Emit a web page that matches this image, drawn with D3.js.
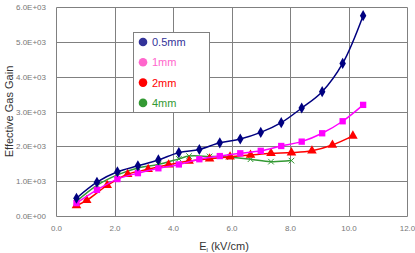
<!DOCTYPE html>
<html lang="en">
<head>
    <meta charset="UTF-8">
    <title>Effective Gas Gain</title>
    <script src="https://d3js.org/d3.v7.min.js"></script>
    <style>
        html, body { margin: 0; padding: 0; background: #fff; }
        svg { display: block; font-family: Arial, "Liberation Sans", Helvetica, sans-serif; }
    </style>
</head>
<body>
    <div id="chart"></div>

    <script>
        // Series data: [E_l (kV/cm), effective gas gain]
        const gap05 = [[0.7, 510], [1.4, 970], [2.1, 1270], [2.8, 1440], [3.5, 1610], [4.2, 1820], [4.9, 1910],
            [5.6, 2100], [6.3, 2210], [7.0, 2400], [7.7, 2680], [8.4, 3100], [9.1, 3570], [9.8, 4380], [10.5, 5750]];
        const gap1 = [[0.7, 370], [1.4, 750], [2.1, 1060], [2.8, 1230], [3.5, 1370], [4.2, 1480], [4.9, 1630],
            [5.6, 1720], [6.3, 1800], [7.0, 1870], [7.7, 2010], [8.4, 2135], [9.1, 2375], [9.8, 2720], [10.5, 3190]];
        const gap2 = [[0.7, 300], [1.05, 450], [1.75, 880], [2.45, 1200], [3.15, 1340], [3.85, 1470], [4.55, 1580],
            [5.25, 1645], [5.95, 1700], [6.65, 1750], [7.35, 1800], [8.05, 1820], [8.75, 1875], [9.45, 2040], [10.15, 2300]];
        const gap4 = [[0.7, 420], [1.4, 880], [2.1, 1180], [2.8, 1380], [3.5, 1480], [4.2, 1640], [4.55, 1720],
            [5.25, 1710], [5.95, 1690], [6.65, 1630], [7.35, 1560], [8.05, 1590]];
        const seriesNames = ["0.5mm", "1mm", "2mm", "4mm"];
        const xTicks = [0, 2, 4, 6, 8, 10, 12];
        const yTicks = [0, 1000, 2000, 3000, 4000, 5000, 6000];

        const W = 415, H = 253;
        const plot = { left: 56, right: 407, top: 7, bottom: 216 };

        const svg = d3.select("#chart").append("svg")
            .attr("width", W)
            .attr("height", H);

        const x = d3.scaleLinear().domain([0, 12]).range([plot.left, plot.right]);
        const y = d3.scaleLinear().domain([0, 6000]).range([plot.bottom, plot.top]);
        const px = v => Math.round(x(v)) + 0.5;
        const py = v => Math.round(y(v)) + 0.5;

        // grid lines
        const grid = svg.append("g").attr("stroke", "#808080").attr("stroke-width", 1);
        grid.selectAll(".gx").data(xTicks).join("line")
            .attr("x1", d => px(d)).attr("x2", d => px(d))
            .attr("y1", py(6000)).attr("y2", py(0));
        grid.selectAll(".gy").data(yTicks).join("line")
            .attr("x1", px(0)).attr("x2", px(12))
            .attr("y1", d => py(d)).attr("y2", d => py(d));

        // tick labels (d3 axes without lines)
        svg.append("g")
            .attr("transform", `translate(0,${plot.bottom + 6})`)
            .call(d3.axisBottom(x).tickValues(xTicks).tickSize(0).tickFormat(d3.format(".1f")))
            .call(g => g.select(".domain").remove())
            .call(g => g.selectAll("text")
                .attr("fill", "#777").attr("font-size", "8px").attr("dy", "0.71em"));

        svg.append("g")
            .attr("transform", `translate(${plot.left - 7},0)`)
            .call(d3.axisLeft(y).tickValues(yTicks).tickSize(0)
                .tickFormat(d => d === 0 ? "0.0E+00" : (d / 1000).toFixed(1) + "E+03"))
            .call(g => g.select(".domain").remove())
            .call(g => g.selectAll("text")
                .attr("fill", "#777").attr("font-size", "8px"));

        // axis titles
        const xt = svg.append("text")
            .attr("x", 224).attr("y", 250)
            .attr("text-anchor", "middle")
            .attr("font-size", "11px").attr("fill", "#333");
        xt.append("tspan").text("E");
        xt.append("tspan").attr("font-size", "6px").attr("dy", 2).text("l");
        xt.append("tspan").attr("dy", -2).text(" (kV/cm)");

        svg.append("text")
            .attr("transform", `translate(13,${(plot.top + plot.bottom) / 2}) rotate(-90)`)
            .attr("text-anchor", "middle")
            .attr("font-size", "11px").attr("fill", "#333")
            .text("Effective Gas Gain");

        const line = d3.line()
            .x(d => x(d[0])).y(d => y(d[1]))
            .curve(d3.curveCatmullRom.alpha(0.5));

        const series = [
            { data: gap05, color: "#000080", marker: d3.symbolDiamond, size: 36 },
            { data: gap1, color: "#ff00ff", marker: d3.symbolSquare, size: 40 },
            { data: gap2, color: "#ff0000", marker: d3.symbolTriangle, size: 40 },
            { data: gap4, color: "#339933", marker: d3.symbolX, size: 22 }
        ];

        // draw back to front so 0.5mm is on top
        [...series].reverse().forEach(s => {
            svg.append("path")
                .datum(s.data)
                .attr("fill", "none")
                .attr("stroke", s.color)
                .attr("stroke-width", 1.5)
                .attr("d", line);
            const sym = d3.symbol().type(s.marker).size(s.size);
            svg.append("g").selectAll("path")
                .data(s.data).join("path")
                .attr("transform", d => `translate(${x(d[0])},${y(d[1])})`)
                .attr("d", sym)
                .attr("fill", s.marker === d3.symbolX ? "none" : s.color)
                .attr("stroke", s.marker === d3.symbolX ? s.color : "none")
                .attr("stroke-width", 1);
        });

        // legend
        const legendColors = ["#333399", "#ff66cc", "#ff0000", "#339933"];
        const legend = svg.append("g");
        legend.append("rect")
            .attr("x", 133.5).attr("y", 32.5)
            .attr("width", 76).attr("height", 80)
            .attr("fill", "#fff").attr("stroke", "#808080");
        const items = legend.selectAll(".item").data(seriesNames).join("g")
            .attr("transform", (d, i) => `translate(143,${42 + i * 20.3})`);
        items.append("circle").attr("r", 4.3).attr("fill", (d, i) => legendColors[i]);
        items.append("text")
            .attr("x", 9).attr("dy", "0.36em")
            .attr("font-size", "11px")
            .attr("fill", (d, i) => legendColors[i])
            .text(d => d);
    </script>
</body>
</html>
